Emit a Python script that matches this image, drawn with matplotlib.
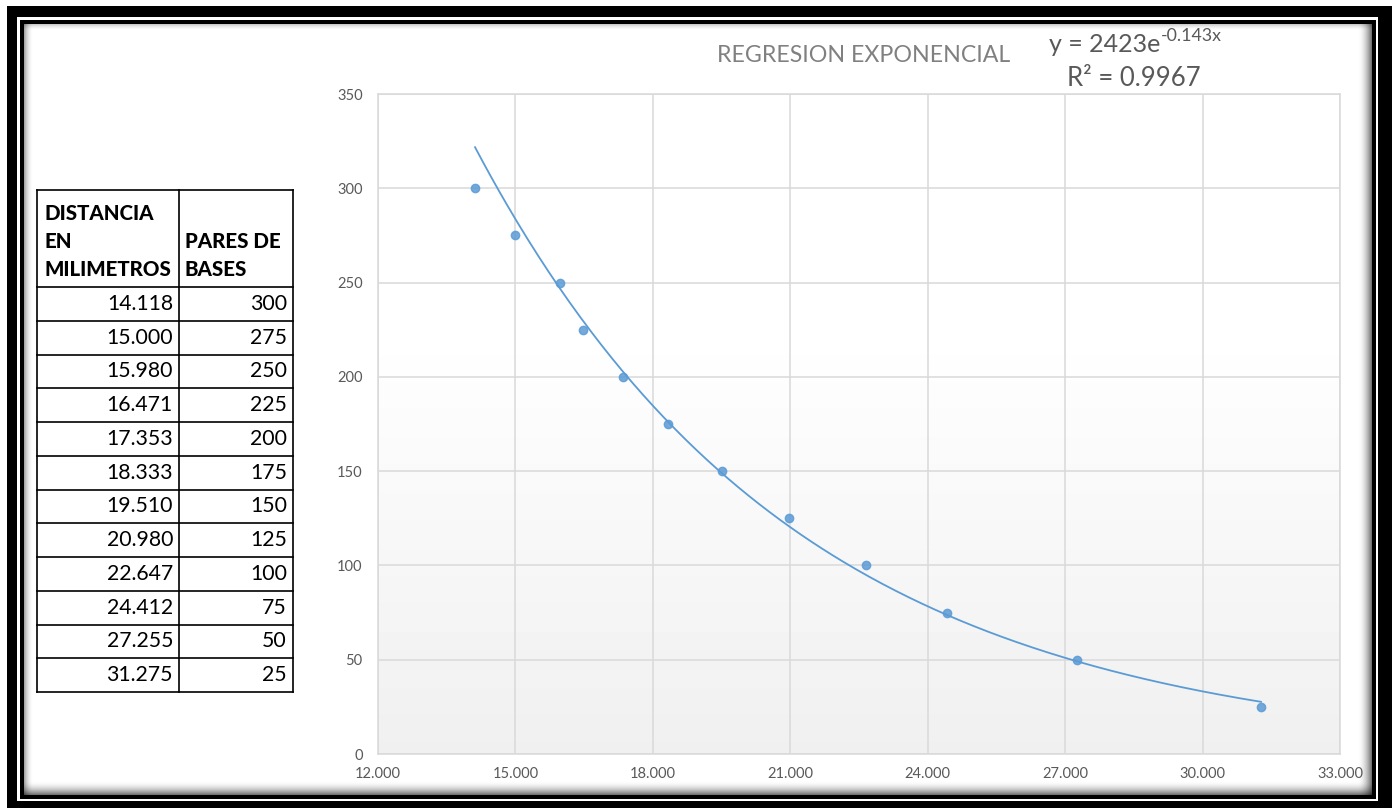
import matplotlib
matplotlib.use("Agg")
import matplotlib.pyplot as plt
from matplotlib.patches import Rectangle
import numpy as np

plt.rcParams['font.family'] = ['Lato', 'DejaVu Sans']

# datos de la tabla
distancia = [14.118, 15.000, 15.980, 16.471, 17.353, 18.333,
             19.510, 20.980, 22.647, 24.412, 27.255, 31.275]
pares = [300, 275, 250, 225, 200, 175, 150, 125, 100, 75, 50, 25]

# ajuste exponencial y = a * e^(b x)
coef_a = 2423
coef_b = -0.143
r2 = 0.9967

x_ticks = [12, 15, 18, 21, 24, 27, 30, 33]
y_ticks = [0, 50, 100, 150, 200, 250, 300, 350]

W, H = 1392, 808
fig = plt.figure(figsize=(W / 100, H / 100), dpi=100)

# capa de fondo en pixeles: marco, sombra y tabla
bg = fig.add_axes([0, 0, 1, 1], zorder=0)
bg.set_xlim(0, W)
bg.set_ylim(H, 0)
bg.axis('off')


def rect(x0, y0, x1, y1, color, alpha=1.0):
    bg.add_patch(Rectangle((x0, y0), x1 - x0, y1 - y0, facecolor=color,
                           edgecolor='none', alpha=alpha))


rect(7, 6, W, H, 'black')
rect(17, 17, 1378, 801, 'white')
rect(20, 20, 1376, 799, 'black')
rect(24, 24, 1372, 795, 'white')

# sombra interior
for i in range(14):
    a = 0.55 * (1 - i / 14) ** 2
    rect(1372 - i - 1, 24, 1372 - i, 795, 'black', a)
    rect(24, 795 - i - 1, 1372, 795 - i, 'black', a)
for i in range(9):
    a = 0.35 * (1 - i / 9) ** 2
    rect(24 + i, 24, 25 + i, 795, 'black', a)
for i in range(6):
    a = 0.2 * (1 - i / 6) ** 2
    rect(24, 24 + i, 1372, 25 + i, 'black', a)

# tabla
col_x = [37, 179, 293]
head_top, head_bot = 190, 287
row_h = (692 - head_bot) / len(distancia)
lw = 1.2
for cx in col_x:
    bg.plot([cx, cx], [head_top, head_bot + row_h * len(distancia)], color='black', lw=lw)
bg.plot([col_x[0], col_x[-1]], [head_top, head_top], color='black', lw=lw)
for k in range(len(distancia) + 1):
    yy = head_bot + k * row_h
    bg.plot([col_x[0], col_x[-1]], [yy, yy], color='black', lw=lw)

for j, txt in enumerate(['DISTANCIA', 'EN', 'MILIMETROS']):
    bg.text(44, 214 + 28 * j, txt, fontsize=14.8, fontweight='black', va='center', ha='left')
for j, txt in enumerate(['PARES DE', 'BASES']):
    bg.text(185, 242 + 28 * j, txt, fontsize=14.8, fontweight='black', va='center', ha='left')
for k, (d, p) in enumerate(zip(distancia, pares)):
    yc = head_bot + (k + 0.5) * row_h
    bg.text(173, yc, f'{d:.3f}', fontsize=15.3, va='center', ha='right')
    bg.text(287, yc, str(p), fontsize=15.3, va='center', ha='right')

# grafico
ax = fig.add_axes([378 / W, 1 - 754 / H, (1340 - 378) / W, (754 - 94) / H], zorder=1)
ax.set_facecolor('none')
grad = np.linspace(0, 1, 200)
shade = np.where(grad < 0.65, 1 - 0.06 * (1 - grad / 0.65), 1.0)
ax.imshow(shade.reshape(-1, 1), extent=[0, 1, 0, 1], transform=ax.transAxes,
          origin='lower', aspect='auto', cmap='gray', vmin=0, vmax=1, zorder=0)

ax.set_xlim(12, 33)
ax.set_ylim(0, 350)
ax.set_xticks(x_ticks)
ax.set_yticks(y_ticks)
ax.set_xticklabels([f'{v}.000' for v in x_ticks])
ax.grid(True, color='#d9d9d9', lw=1.1, zorder=1)
ax.set_axisbelow(True)
for s in ax.spines.values():
    s.set_color('#d9d9d9')
    s.set_linewidth(1.1)
ax.tick_params(length=0, labelsize=10.5, labelcolor='#595959')
ax.tick_params(axis='y', pad=11)
ax.tick_params(axis='x', pad=9)

xs = np.linspace(min(distancia), max(distancia), 300)
ax.plot(xs, coef_a * np.exp(coef_b * xs), color='#5b9bd5', lw=1.3, zorder=3)
ax.scatter(distancia, pares, s=36, color='#5b9bd5', alpha=0.85,
           edgecolors='#5b9bd5', linewidths=1, zorder=4)

# titulo y ecuacion
fig.text(864 / W, 1 - 55 / H, 'REGRESION EXPONENCIAL', fontsize=16.7,
         color='#808080', ha='center', va='center')
fig.text(1160 / W, 1 - 45 / H, f'y = {coef_a}e', fontsize=18,
         color='#595959', ha='right', va='center')
fig.text(1161 / W, 1 - 36 / H, f'{coef_b}x', fontsize=12.8,
         color='#595959', ha='left', va='center')
fig.text(1134 / W, 1 - 78 / H, f'R² = {r2}', fontsize=18.5,
         color='#595959', ha='center', va='center')

fig.savefig('out.png', dpi=100)
